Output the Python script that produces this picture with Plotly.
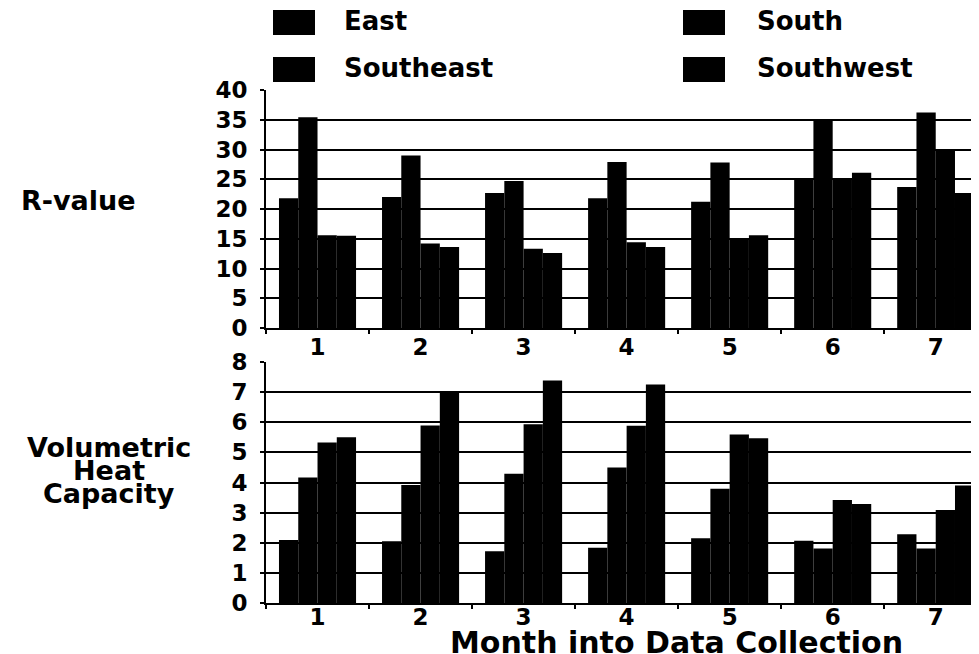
import plotly.graph_objects as go
from plotly.subplots import make_subplots

months = ["1", "2", "3", "4", "5", "6", "7"]
series = ["East", "South", "Southeast", "Southwest"]

r_east = [21.8, 22.0, 22.7, 21.8, 21.2, 25.1, 23.7]
r_south = [35.4, 29.0, 24.7, 27.9, 27.8, 35.1, 36.2]
r_southeast = [15.6, 14.2, 13.3, 14.4, 15.1, 25.2, 30.1]
r_southwest = [15.5, 13.6, 12.6, 13.6, 15.6, 26.1, 22.7]

v_east = [2.09, 2.05, 1.72, 1.83, 2.15, 2.07, 2.28]
v_south = [4.17, 3.92, 4.29, 4.50, 3.79, 1.81, 1.81]
v_southeast = [5.33, 5.89, 5.93, 5.88, 5.59, 3.42, 3.09]
v_southwest = [5.50, 7.00, 7.39, 7.25, 5.47, 3.29, 3.90]

r_ticks = [0, 5, 10, 15, 20, 25, 30, 35, 40]
v_ticks = [0, 1, 2, 3, 4, 5, 6, 7, 8]

r_label = "R-value"
v_label = ["Volumetric", "Heat", "Capacity"]
x_title = "Month into Data Collection"

# page offset (default body margin of the html page)
OFF = 8
W, H = 979 - OFF, 654 - OFF
L, R, T, B = 266 - OFF, 0, 90 - OFF, 51
PW, PH = W - L - R, H - T - B
FONT = "DejaVu Sans"
BLACK = "#000000"


def fx(px):
    return (px - OFF - L) / PW


def fy(py):
    return (H - B - (py - OFF)) / PH


fig = make_subplots(rows=2, cols=1, shared_xaxes=False, vertical_spacing=0.05)

r_vals = [r_east, r_south, r_southeast, r_southwest]
v_vals = [v_east, v_south, v_southeast, v_southwest]
for name, vals in zip(series, r_vals):
    fig.add_trace(go.Bar(x=months, y=vals, name=name, marker=dict(color=BLACK, line=dict(width=0)),
                         showlegend=False), row=1, col=1)
for name, vals in zip(series, v_vals):
    fig.add_trace(go.Bar(x=months, y=vals, name=name, marker=dict(color=BLACK, line=dict(width=0)),
                         showlegend=False), row=2, col=1)

tickfont = dict(family=FONT, size=23, color=BLACK, weight="bold")
xcommon = dict(type="category", range=[-0.5, 6.42], showline=True, linecolor=BLACK, linewidth=2,
               ticks="outside", tickson="boundaries", ticklen=4, tickcolor=BLACK, tickwidth=1.5,
               showgrid=False, tickfont=tickfont, zeroline=False)
ycommon = dict(showline=True, linecolor=BLACK, linewidth=2, ticks="outside", ticklen=4,
               tickcolor=BLACK, tickwidth=1.5, showgrid=True, gridcolor=BLACK, gridwidth=1.6,
               zeroline=False, tickfont=tickfont, ticklabelstandoff=8)

fig.update_xaxes(**xcommon)
fig.update_yaxes(**ycommon)
fig.update_xaxes(ticklabelstandoff=-3, row=1, col=1)
fig.update_xaxes(ticklabelstandoff=-8, row=2, col=1)
fig.update_yaxes(range=[0, 40], tickvals=r_ticks, domain=[fy(328), 1], row=1, col=1)
fig.update_yaxes(range=[0, 8], tickvals=v_ticks, domain=[0, fy(362)], row=2, col=1)

annotations = []
shapes = []
# legend built from series names
leg_cols = [(273, 342), (683, 755)]
leg_rows = [(10, 35), (57, 82)]
order = ["East", "South", "Southeast", "Southwest"]
for i, name in enumerate(order):
    col = i % 2
    row = i // 2
    sx, tx = leg_cols[col]
    y0, y1 = leg_rows[row]
    shapes.append(dict(type="rect", xref="paper", yref="paper", x0=fx(sx), x1=fx(sx + 42),
                       y0=fy(y1), y1=fy(y0), fillcolor=BLACK, line=dict(width=0)))
    annotations.append(dict(text=name, xref="paper", yref="paper", x=fx(tx), y=fy((y0 + y1) / 2 - 1),
                            xanchor="left", yanchor="middle", showarrow=False,
                            font=dict(family=FONT, size=26, color=BLACK, weight="bold")))

lab_font = dict(family=FONT, size=27, color=BLACK, weight="bold")
annotations.append(dict(text=r_label, xref="paper", yref="paper", x=fx(78), y=fy(200),
                        xanchor="center", yanchor="middle", showarrow=False, font=lab_font))
for j, t in enumerate(v_label):
    annotations.append(dict(text=t, xref="paper", yref="paper", x=fx(109), y=fy(447 + 23 * j),
                            xanchor="center", yanchor="middle", showarrow=False, font=lab_font))
annotations.append(dict(text=x_title, xref="paper", yref="paper", x=fx(676), y=fy(642),
                        xanchor="center", yanchor="middle", showarrow=False,
                        font=dict(family=FONT, size=30, color=BLACK, weight="bold")))

fig.update_layout(
    width=W, height=H, autosize=False,
    margin=dict(l=L, r=R, t=T, b=B, pad=0),
    paper_bgcolor="white", plot_bgcolor="white",
    barmode="group", bargap=0.252, bargroupgap=0,
    showlegend=False,
    annotations=annotations, shapes=shapes,
    font=dict(family=FONT, color=BLACK),
)

fig.write_html("out.html")
